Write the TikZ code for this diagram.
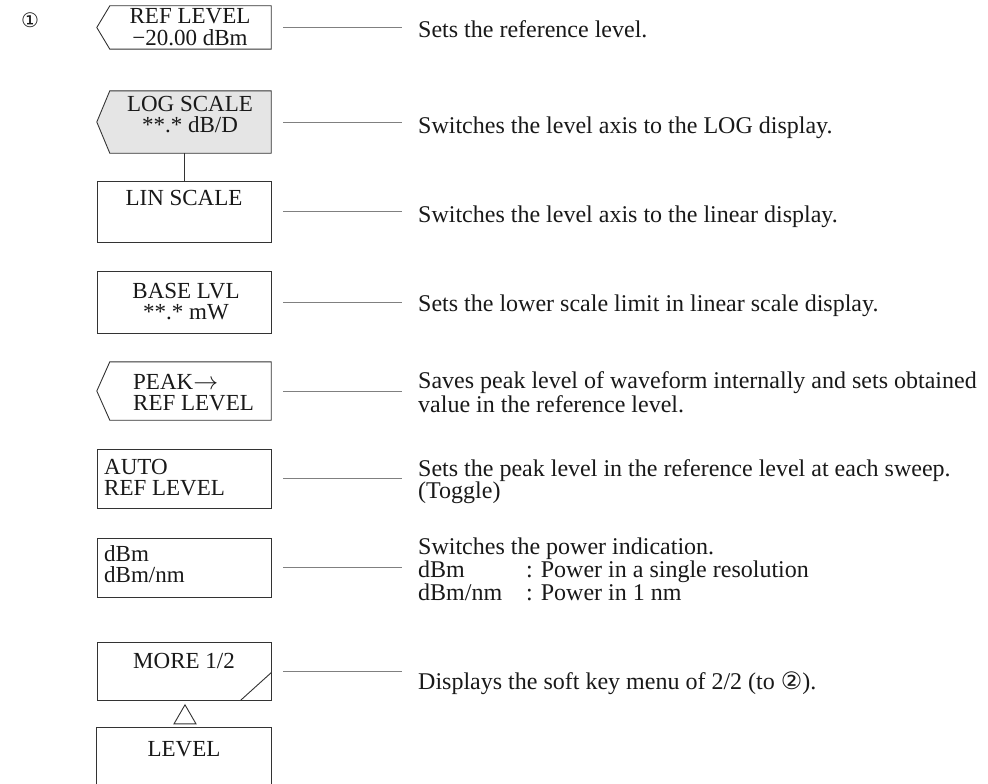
\documentclass[tikz,border=0pt]{standalone}
\usepackage{fontspec}
\setmainfont{Liberation Serif}
\newfontfamily\dejavu{DejaVu Sans}
\usetikzlibrary{calc,shapes.geometric}
\definecolor{ink}{gray}{0.1}
\definecolor{edge}{gray}{0.2}
\definecolor{lead}{gray}{0.5}
\definecolor{shade}{gray}{0.9}
\begin{document}
\begin{tikzpicture}[x=1pt,y=-1pt,
  every node/.style={inner sep=0pt, text=ink},
  ktxt/.style={font=\fontsize{23}{21.5}\selectfont},
  dtxt/.style={font=\fontsize{24}{22}\selectfont},
  desc/.style={dtxt, anchor=base west, align=left},
  keyc/.style={ktxt, anchor=base, align=center},
  keyl/.style={ktxt, anchor=base west, align=left},
  keybox/.style={rectangle, draw=none, minimum width=174pt},
  ptbox/.style={rectangle, draw=none, minimum width=161pt},
  outline/.style={draw=edge, line width=0.9pt, line join=miter},
  leader/.style={draw=lead, line width=0.6pt},
]
\useasboundingbox[fill=white] (0,0) rectangle (988,784);

\node[font=\dejavu\fontsize{20}{20}\selectfont] (c1) at (30,20) {①};

% boxes
\node[ptbox, minimum height=43pt] (b1) at (190.5,27.5) {};
\draw[outline] (b1.north west) -- (b1.north east) -- (b1.south east) -- (b1.south west) -- ([xshift=-13pt]b1.west) -- cycle;
\node[ptbox, minimum height=62pt] (b2) at (190.5,122) {};
\draw[outline, fill=shade] (b2.north west) -- (b2.north east) -- (b2.south east) -- (b2.south west) -- ([xshift=-13pt]b2.west) -- cycle;
\node[keybox, minimum height=61pt, draw=edge, line width=0.9pt] (b3) at (184,211.5) {};
\node[keybox, minimum height=62pt, draw=edge, line width=0.9pt] (b4) at (184,302) {};
\node[ptbox, minimum height=58pt] (b5) at (190.5,391) {};
\draw[outline] (b5.north west) -- (b5.north east) -- (b5.south east) -- (b5.south west) -- ([xshift=-13pt]b5.west) -- cycle;
\node[keybox, minimum height=59pt, draw=edge, line width=0.9pt] (b6) at (184,478.5) {};
\node[keybox, minimum height=59pt, draw=edge, line width=0.9pt] (b7) at (184,567.5) {};
\node[keybox, minimum height=58pt, draw=edge, line width=0.9pt] (b8) at (184,671) {};
\draw[outline] ([xshift=-31pt]b8.south east) -- ([yshift=28pt]b8.south east);
\node[keybox, minimum height=64pt] (b9) at (184,760) {};
\draw[outline] (b9.south west) -- (b9.north west) -- (b9.north east) -- (b9.south east);

\draw[outline] (b2.south -| b3.north) -- (b3.north);
\node[draw=edge, line width=0.9pt, regular polygon, regular polygon sides=3, minimum size=25.4pt] (tri) at (185,717.5) {};

% key texts (base anchor = baseline of the last line)
\node[keyc] (t1) at (190,45.5) {REF LEVEL\\−20.00 dBm};
\node[keyc] (t2) at (190,132.5) {LOG SCALE\\**.* dB/D};
\node[keyc] (t3) at (184,205) {LIN SCALE};
\node[keyc] (t4) at (186,319.5) {BASE LVL\\**.* mW};
\node[keyl] (t5) at (133,410.5) {PEAK$\rightarrow$\\REF LEVEL};
\node[keyl] (t6) at (104,495.5) {AUTO\\REF LEVEL};
\node[keyl] (t7) at (104,582.5) {dBm\\dBm/nm};
\node[keyc] (t8) at (184,668) {MORE 1/2};
\node[keyc] (t9) at (184,756) {LEVEL};

% leaders
\foreach \b in {b1,b2,b3,b4,b5,b6,b7,b8}
  \draw[leader] ([xshift=12pt]\b.east) -- ([xshift=131pt]\b.east);

% descriptions
\node[desc] (d1) at (418,38) {Sets the reference level.};
\node[desc] (d2) at (418,133) {Switches the level axis to the LOG display.};
\node[desc] (d3) at (418,222) {Switches the level axis to the linear display.};
\node[desc] (d4) at (418,311) {Sets the lower scale limit in linear scale display.};
\node[desc] (d5) at (418,412) {Saves peak level of waveform internally and sets obtained\\value in the reference level.};
\node[desc] (d6) at (418,498) {Sets the peak level in the reference level at each sweep.\\(Toggle)};
\node[desc, font=\fontsize{24}{20}\selectfont] (d7) at (418,600) {Switches the power indication.\\\makebox[4.5em][l]{dBm}: Power in a single resolution\\\makebox[4.5em][l]{dBm/nm}: Power in 1 nm};
\node[desc] (d8) at (418,689) {Displays the soft key menu of 2/2 (to {\dejavu ②}).};
\end{tikzpicture}
\end{document}
